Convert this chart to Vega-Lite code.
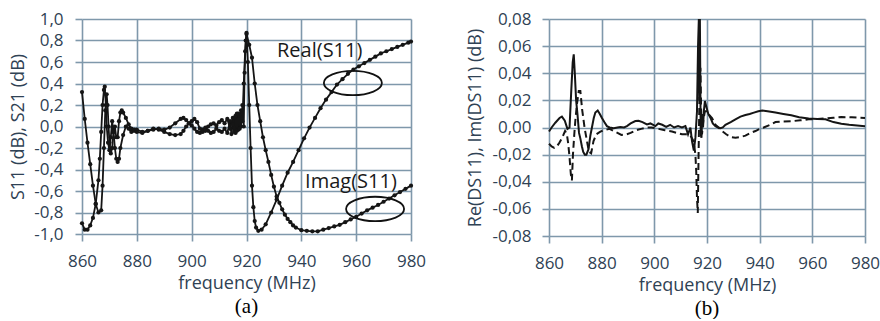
{
"$schema":"https://vega.github.io/schema/vega-lite/v6.json",
"background":"white",
"padding":{"left":9,"top":10,"right":0,"bottom":0},
"spacing":40,
"config":{
 "font":"Open Sans",
 "view":{"stroke":null},
 "axis":{"labelFont":"Open Sans","labelFontSize":17,"labelColor":"#2f4254","labelOverlap":false,"labelFlush":false,"titleFont":"Open Sans","titleFontSize":18,"titleFontWeight":"normal","titleColor":"#2f4254","gridColor":"#7f98ab","gridWidth":1.6,"gridOpacity":1,"tickColor":"#7f98ab","tickWidth":1.6,"tickSize":7,"domain":false},
 "title":{"font":"Liberation Serif","fontSize":21,"fontWeight":"normal","color":"#000000","orient":"bottom","anchor":"middle"}
},
"datasets":{
 "s11":[
{"f":860,"v":-0.9,"s":"Real"},{"f":861,"v":-0.96,"s":"Real"},{"f":862,"v":-0.96,"s":"Real"},{"f":863,"v":-0.92,"s":"Real"},{"f":864,"v":-0.85,"s":"Real"},{"f":865,"v":-0.72,"s":"Real"},{"f":866,"v":-0.5,"s":"Real"},{"f":866.5,"v":-0.3,"s":"Real"},{"f":867,"v":-0.05,"s":"Real"},{"f":867.5,"v":0.2,"s":"Real"},{"f":868,"v":0.34,"s":"Real"},{"f":868.3,"v":0.37,"s":"Real"},{"f":868.7,"v":0.2,"s":"Real"},{"f":869,"v":0.0,"s":"Real"},{"f":869.5,"v":-0.15,"s":"Real"},{"f":870,"v":-0.22,"s":"Real"},{"f":870.5,"v":-0.1,"s":"Real"},{"f":871,"v":0.05,"s":"Real"},{"f":871.5,"v":-0.05,"s":"Real"},{"f":872,"v":-0.2,"s":"Real"},{"f":872.5,"v":-0.3,"s":"Real"},{"f":873,"v":-0.33,"s":"Real"},{"f":873.5,"v":-0.3,"s":"Real"},{"f":874,"v":-0.2,"s":"Real"},{"f":875,"v":-0.08,"s":"Real"},{"f":876,"v":0.0,"s":"Real"},{"f":877,"v":-0.02,"s":"Real"},{"f":878,"v":-0.05,"s":"Real"},{"f":879,"v":-0.04,"s":"Real"},{"f":880,"v":-0.05,"s":"Real"},{"f":882,"v":-0.06,"s":"Real"},{"f":884,"v":-0.04,"s":"Real"},{"f":886,"v":-0.02,"s":"Real"},{"f":888,"v":-0.03,"s":"Real"},{"f":890,"v":-0.05,"s":"Real"},{"f":892,"v":-0.07,"s":"Real"},{"f":894,"v":-0.08,"s":"Real"},{"f":896,"v":-0.07,"s":"Real"},{"f":897,"v":-0.04,"s":"Real"},{"f":898,"v":0.0,"s":"Real"},{"f":899,"v":0.03,"s":"Real"},{"f":900,"v":0.01,"s":"Real"},{"f":901,"v":-0.02,"s":"Real"},{"f":902,"v":-0.05,"s":"Real"},{"f":903,"v":-0.06,"s":"Real"},{"f":904,"v":-0.03,"s":"Real"},{"f":905,"v":-0.01,"s":"Real"},{"f":906,"v":-0.04,"s":"Real"},{"f":907,"v":-0.06,"s":"Real"},{"f":908,"v":-0.05,"s":"Real"},{"f":909,"v":-0.02,"s":"Real"},{"f":910,"v":-0.04,"s":"Real"},{"f":911,"v":-0.05,"s":"Real"},{"f":912,"v":-0.02,"s":"Real"},{"f":913,"v":-0.06,"s":"Real"},{"f":914,"v":0.05,"s":"Real"},{"f":914.5,"v":-0.07,"s":"Real"},{"f":915,"v":0.02,"s":"Real"},{"f":915.5,"v":0.08,"s":"Real"},{"f":916,"v":-0.06,"s":"Real"},{"f":916.5,"v":0.12,"s":"Real"},{"f":917,"v":-0.03,"s":"Real"},{"f":917.5,"v":0.1,"s":"Real"},{"f":918,"v":0.0,"s":"Real"},{"f":918.5,"v":0.2,"s":"Real"},{"f":919,"v":0.0,"s":"Real"},{"f":919.3,"v":0.5,"s":"Real"},{"f":919.7,"v":0.8,"s":"Real"},{"f":920,"v":0.87,"s":"Real"},{"f":920.5,"v":0.6,"s":"Real"},{"f":921,"v":0.2,"s":"Real"},{"f":921.5,"v":-0.2,"s":"Real"},{"f":922,"v":-0.55,"s":"Real"},{"f":922.5,"v":-0.75,"s":"Real"},{"f":923,"v":-0.88,"s":"Real"},{"f":923.5,"v":-0.94,"s":"Real"},{"f":924.3,"v":-0.97,"s":"Real"},{"f":925.5,"v":-0.96,"s":"Real"},{"f":927,"v":-0.91,"s":"Real"},{"f":929,"v":-0.8,"s":"Real"},{"f":931,"v":-0.68,"s":"Real"},{"f":933,"v":-0.55,"s":"Real"},{"f":935,"v":-0.43,"s":"Real"},{"f":937,"v":-0.33,"s":"Real"},{"f":939,"v":-0.22,"s":"Real"},{"f":941,"v":-0.11,"s":"Real"},{"f":943,"v":-0.01,"s":"Real"},{"f":945,"v":0.08,"s":"Real"},{"f":947,"v":0.17,"s":"Real"},{"f":949,"v":0.25,"s":"Real"},{"f":951,"v":0.32,"s":"Real"},{"f":953,"v":0.39,"s":"Real"},{"f":955,"v":0.44,"s":"Real"},{"f":957,"v":0.49,"s":"Real"},{"f":959,"v":0.53,"s":"Real"},{"f":961,"v":0.56,"s":"Real"},{"f":963,"v":0.59,"s":"Real"},{"f":965,"v":0.62,"s":"Real"},{"f":967,"v":0.65,"s":"Real"},{"f":969,"v":0.68,"s":"Real"},{"f":971,"v":0.7,"s":"Real"},{"f":973,"v":0.72,"s":"Real"},{"f":975,"v":0.74,"s":"Real"},{"f":977,"v":0.76,"s":"Real"},{"f":979,"v":0.78,"s":"Real"},{"f":980,"v":0.79,"s":"Real"},
{"f":860,"v":0.32,"s":"Imag"},{"f":861,"v":0.07,"s":"Imag"},{"f":862,"v":-0.15,"s":"Imag"},{"f":863,"v":-0.35,"s":"Imag"},{"f":864,"v":-0.55,"s":"Imag"},{"f":865,"v":-0.72,"s":"Imag"},{"f":866,"v":-0.8,"s":"Imag"},{"f":867,"v":-0.78,"s":"Imag"},{"f":867.5,"v":-0.55,"s":"Imag"},{"f":868,"v":-0.2,"s":"Imag"},{"f":868.5,"v":0.15,"s":"Imag"},{"f":869,"v":0.3,"s":"Imag"},{"f":869.3,"v":0.2,"s":"Imag"},{"f":869.7,"v":0.0,"s":"Imag"},{"f":870,"v":-0.15,"s":"Imag"},{"f":870.5,"v":-0.25,"s":"Imag"},{"f":871,"v":-0.2,"s":"Imag"},{"f":871.5,"v":-0.05,"s":"Imag"},{"f":872,"v":0.0,"s":"Imag"},{"f":872.5,"v":-0.1,"s":"Imag"},{"f":873,"v":-0.1,"s":"Imag"},{"f":873.5,"v":0.05,"s":"Imag"},{"f":874,"v":0.13,"s":"Imag"},{"f":874.5,"v":0.15,"s":"Imag"},{"f":875,"v":0.13,"s":"Imag"},{"f":876,"v":0.08,"s":"Imag"},{"f":877,"v":0.02,"s":"Imag"},{"f":878,"v":-0.02,"s":"Imag"},{"f":879,"v":-0.03,"s":"Imag"},{"f":880,"v":-0.03,"s":"Imag"},{"f":882,"v":-0.05,"s":"Imag"},{"f":884,"v":-0.04,"s":"Imag"},{"f":886,"v":-0.03,"s":"Imag"},{"f":888,"v":-0.02,"s":"Imag"},{"f":890,"v":-0.03,"s":"Imag"},{"f":892,"v":-0.01,"s":"Imag"},{"f":894,"v":0.03,"s":"Imag"},{"f":896,"v":0.07,"s":"Imag"},{"f":897,"v":0.08,"s":"Imag"},{"f":898,"v":0.06,"s":"Imag"},{"f":899,"v":0.03,"s":"Imag"},{"f":900,"v":0.05,"s":"Imag"},{"f":901,"v":0.07,"s":"Imag"},{"f":902,"v":0.04,"s":"Imag"},{"f":903,"v":-0.02,"s":"Imag"},{"f":904,"v":-0.05,"s":"Imag"},{"f":905,"v":-0.04,"s":"Imag"},{"f":906,"v":0.0,"s":"Imag"},{"f":907,"v":0.02,"s":"Imag"},{"f":908,"v":0.03,"s":"Imag"},{"f":909,"v":0.01,"s":"Imag"},{"f":910,"v":0.04,"s":"Imag"},{"f":911,"v":0.06,"s":"Imag"},{"f":912,"v":0.03,"s":"Imag"},{"f":913,"v":0.07,"s":"Imag"},{"f":914,"v":-0.02,"s":"Imag"},{"f":915,"v":0.08,"s":"Imag"},{"f":915.5,"v":-0.05,"s":"Imag"},{"f":916,"v":0.1,"s":"Imag"},{"f":916.5,"v":-0.04,"s":"Imag"},{"f":917,"v":0.12,"s":"Imag"},{"f":917.5,"v":-0.02,"s":"Imag"},{"f":918,"v":0.15,"s":"Imag"},{"f":918.5,"v":0.05,"s":"Imag"},{"f":919,"v":0.4,"s":"Imag"},{"f":919.5,"v":0.7,"s":"Imag"},{"f":920,"v":0.86,"s":"Imag"},{"f":921,"v":0.76,"s":"Imag"},{"f":922,"v":0.64,"s":"Imag"},{"f":923,"v":0.4,"s":"Imag"},{"f":924,"v":0.2,"s":"Imag"},{"f":925,"v":0.05,"s":"Imag"},{"f":926,"v":-0.1,"s":"Imag"},{"f":927,"v":-0.22,"s":"Imag"},{"f":928,"v":-0.33,"s":"Imag"},{"f":929,"v":-0.45,"s":"Imag"},{"f":930,"v":-0.56,"s":"Imag"},{"f":931,"v":-0.65,"s":"Imag"},{"f":932,"v":-0.71,"s":"Imag"},{"f":933,"v":-0.77,"s":"Imag"},{"f":934,"v":-0.82,"s":"Imag"},{"f":935,"v":-0.86,"s":"Imag"},{"f":936,"v":-0.89,"s":"Imag"},{"f":937,"v":-0.92,"s":"Imag"},{"f":938,"v":-0.94,"s":"Imag"},{"f":940,"v":-0.965,"s":"Imag"},{"f":942,"v":-0.97,"s":"Imag"},{"f":944,"v":-0.975,"s":"Imag"},{"f":946,"v":-0.975,"s":"Imag"},{"f":948,"v":-0.96,"s":"Imag"},{"f":950,"v":-0.945,"s":"Imag"},{"f":952,"v":-0.93,"s":"Imag"},{"f":954,"v":-0.915,"s":"Imag"},{"f":956,"v":-0.89,"s":"Imag"},{"f":958,"v":-0.865,"s":"Imag"},{"f":960,"v":-0.84,"s":"Imag"},{"f":962,"v":-0.81,"s":"Imag"},{"f":964,"v":-0.78,"s":"Imag"},{"f":966,"v":-0.755,"s":"Imag"},{"f":968,"v":-0.73,"s":"Imag"},{"f":970,"v":-0.7,"s":"Imag"},{"f":972,"v":-0.67,"s":"Imag"},{"f":974,"v":-0.64,"s":"Imag"},{"f":976,"v":-0.61,"s":"Imag"},{"f":978,"v":-0.58,"s":"Imag"},{"f":980,"v":-0.55,"s":"Imag"}
 ],
 "notes":[{"f":946.7,"v":0.70,"label":"Real(S11)"},{"f":958.1,"v":-0.516,"label":"Imag(S11)"}],
 "rings":[{"f":958.8,"v":0.405},{"f":966.9,"v":-0.767}],
 "ds11":[
{"f":860,"v":-0.003,"s":"Re"},{"f":861,"v":0.0,"s":"Re"},{"f":862.4,"v":0.0035,"s":"Re"},{"f":864,"v":0.007,"s":"Re"},{"f":864.9,"v":0.008,"s":"Re"},{"f":866,"v":0.005,"s":"Re"},{"f":867,"v":-0.001,"s":"Re"},{"f":867.8,"v":0.0,"s":"Re"},{"f":868.4,"v":0.025,"s":"Re"},{"f":869,"v":0.048,"s":"Re"},{"f":869.4,"v":0.054,"s":"Re"},{"f":869.8,"v":0.04,"s":"Re"},{"f":870.3,"v":0.02,"s":"Re"},{"f":870.8,"v":0.01,"s":"Re"},{"f":871.4,"v":-0.004,"s":"Re"},{"f":871.9,"v":-0.008,"s":"Re"},{"f":872.5,"v":-0.014,"s":"Re"},{"f":873,"v":-0.018,"s":"Re"},{"f":873.6,"v":-0.02,"s":"Re"},{"f":874.2,"v":-0.02,"s":"Re"},{"f":875,"v":-0.016,"s":"Re"},{"f":875.7,"v":-0.006,"s":"Re"},{"f":876.3,"v":0.0,"s":"Re"},{"f":877,"v":0.007,"s":"Re"},{"f":877.6,"v":0.011,"s":"Re"},{"f":878.5,"v":0.0125,"s":"Re"},{"f":879.3,"v":0.01,"s":"Re"},{"f":880.1,"v":0.007,"s":"Re"},{"f":881,"v":0.004,"s":"Re"},{"f":882,"v":0.001,"s":"Re"},{"f":883,"v":0.0,"s":"Re"},{"f":884.6,"v":-0.0006,"s":"Re"},{"f":886,"v":0.0,"s":"Re"},{"f":887.1,"v":0.0004,"s":"Re"},{"f":888.5,"v":0.0,"s":"Re"},{"f":889.6,"v":0.001,"s":"Re"},{"f":891,"v":0.003,"s":"Re"},{"f":892.8,"v":0.0048,"s":"Re"},{"f":894,"v":0.005,"s":"Re"},{"f":895.5,"v":0.004,"s":"Re"},{"f":897.2,"v":0.0023,"s":"Re"},{"f":898.5,"v":0.003,"s":"Re"},{"f":900.4,"v":0.001,"s":"Re"},{"f":901.5,"v":0.003,"s":"Re"},{"f":903,"v":0.002,"s":"Re"},{"f":904.5,"v":0.0005,"s":"Re"},{"f":906,"v":0.002,"s":"Re"},{"f":907.5,"v":0.0,"s":"Re"},{"f":909,"v":0.001,"s":"Re"},{"f":910.5,"v":0.0,"s":"Re"},{"f":911.8,"v":0.001,"s":"Re"},{"f":912.8,"v":-0.005,"s":"Re"},{"f":913.7,"v":0.0,"s":"Re"},{"f":914.3,"v":-0.01,"s":"Re"},{"f":915,"v":-0.017,"s":"Re"},{"f":915.6,"v":-0.0075,"s":"Re"},{"f":916.2,"v":0.012,"s":"Re"},{"f":916.6,"v":0.06,"s":"Re"},{"f":916.9,"v":0.08,"s":"Re"},{"f":917.1,"v":0.02,"s":"Re"},{"f":917.3,"v":0.08,"s":"Re"},{"f":917.6,"v":-0.005,"s":"Re"},{"f":917.9,"v":-0.0075,"s":"Re"},{"f":918.2,"v":0.01,"s":"Re"},{"f":918.5,"v":0.0,"s":"Re"},{"f":918.8,"v":0.012,"s":"Re"},{"f":919.2,"v":0.0195,"s":"Re"},{"f":919.8,"v":0.015,"s":"Re"},{"f":920.5,"v":0.01,"s":"Re"},{"f":921.3,"v":0.0072,"s":"Re"},{"f":922.2,"v":0.003,"s":"Re"},{"f":923.2,"v":0.001,"s":"Re"},{"f":924.2,"v":0.0,"s":"Re"},{"f":925.1,"v":-0.0006,"s":"Re"},{"f":926,"v":0.0,"s":"Re"},{"f":927,"v":0.002,"s":"Re"},{"f":929,"v":0.004,"s":"Re"},{"f":930.8,"v":0.006,"s":"Re"},{"f":932.7,"v":0.008,"s":"Re"},{"f":934.6,"v":0.0092,"s":"Re"},{"f":936.2,"v":0.01,"s":"Re"},{"f":937.8,"v":0.011,"s":"Re"},{"f":939.5,"v":0.012,"s":"Re"},{"f":941,"v":0.0125,"s":"Re"},{"f":943,"v":0.012,"s":"Re"},{"f":946,"v":0.011,"s":"Re"},{"f":949,"v":0.01,"s":"Re"},{"f":952,"v":0.009,"s":"Re"},{"f":955,"v":0.0075,"s":"Re"},{"f":958.6,"v":0.0066,"s":"Re"},{"f":962,"v":0.0062,"s":"Re"},{"f":965,"v":0.006,"s":"Re"},{"f":968,"v":0.004,"s":"Re"},{"f":971,"v":0.0027,"s":"Re"},{"f":974,"v":0.002,"s":"Re"},{"f":977,"v":0.0015,"s":"Re"},{"f":980,"v":0.001,"s":"Re"},
{"f":860,"v":-0.012,"s":"Im"},{"f":861,"v":-0.014,"s":"Im"},{"f":862,"v":-0.015,"s":"Im"},{"f":863,"v":-0.014,"s":"Im"},{"f":864,"v":-0.011,"s":"Im"},{"f":865,"v":-0.0075,"s":"Im"},{"f":866.1,"v":-0.0026,"s":"Im"},{"f":866.8,"v":-0.005,"s":"Im"},{"f":867.3,"v":-0.012,"s":"Im"},{"f":867.8,"v":-0.022,"s":"Im"},{"f":868.3,"v":-0.0345,"s":"Im"},{"f":868.7,"v":-0.039,"s":"Im"},{"f":869.1,"v":-0.02,"s":"Im"},{"f":869.6,"v":-0.005,"s":"Im"},{"f":870,"v":0.005,"s":"Im"},{"f":870.6,"v":0.017,"s":"Im"},{"f":871.3,"v":0.027,"s":"Im"},{"f":871.9,"v":0.027,"s":"Im"},{"f":872.6,"v":0.013,"s":"Im"},{"f":873.5,"v":0.0,"s":"Im"},{"f":874.4,"v":-0.01,"s":"Im"},{"f":875.2,"v":-0.018,"s":"Im"},{"f":876,"v":-0.019,"s":"Im"},{"f":876.9,"v":-0.01,"s":"Im"},{"f":878,"v":-0.005,"s":"Im"},{"f":879.5,"v":-0.003,"s":"Im"},{"f":881,"v":-0.002,"s":"Im"},{"f":883,"v":-0.001,"s":"Im"},{"f":885,"v":-0.003,"s":"Im"},{"f":887.5,"v":-0.0055,"s":"Im"},{"f":889.5,"v":-0.005,"s":"Im"},{"f":891,"v":-0.004,"s":"Im"},{"f":893,"v":-0.002,"s":"Im"},{"f":895,"v":-0.001,"s":"Im"},{"f":897,"v":0.0,"s":"Im"},{"f":899,"v":0.0,"s":"Im"},{"f":901.6,"v":-0.001,"s":"Im"},{"f":904,"v":-0.002,"s":"Im"},{"f":906.7,"v":-0.003,"s":"Im"},{"f":908.5,"v":-0.004,"s":"Im"},{"f":910.5,"v":-0.005,"s":"Im"},{"f":912,"v":-0.005,"s":"Im"},{"f":913.7,"v":-0.006,"s":"Im"},{"f":914.9,"v":-0.01,"s":"Im"},{"f":915.6,"v":-0.02,"s":"Im"},{"f":915.9,"v":-0.032,"s":"Im"},{"f":916.2,"v":-0.052,"s":"Im"},{"f":916.5,"v":-0.063,"s":"Im"},{"f":916.8,"v":-0.02,"s":"Im"},{"f":917.2,"v":0.03,"s":"Im"},{"f":917.5,"v":0.044,"s":"Im"},{"f":917.8,"v":0.01,"s":"Im"},{"f":918.1,"v":-0.005,"s":"Im"},{"f":918.6,"v":0.005,"s":"Im"},{"f":919.2,"v":0.012,"s":"Im"},{"f":920,"v":0.012,"s":"Im"},{"f":921,"v":0.009,"s":"Im"},{"f":921.9,"v":0.007,"s":"Im"},{"f":923.2,"v":0.002,"s":"Im"},{"f":924.4,"v":0.0,"s":"Im"},{"f":925.7,"v":-0.0026,"s":"Im"},{"f":927.3,"v":-0.005,"s":"Im"},{"f":929,"v":-0.007,"s":"Im"},{"f":930.8,"v":-0.0075,"s":"Im"},{"f":932.7,"v":-0.007,"s":"Im"},{"f":934.6,"v":-0.006,"s":"Im"},{"f":936.5,"v":-0.004,"s":"Im"},{"f":938.4,"v":-0.0026,"s":"Im"},{"f":940,"v":-0.001,"s":"Im"},{"f":941.5,"v":0.0,"s":"Im"},{"f":944,"v":0.002,"s":"Im"},{"f":946,"v":0.004,"s":"Im"},{"f":949,"v":0.0045,"s":"Im"},{"f":952.3,"v":0.0047,"s":"Im"},{"f":955.5,"v":0.0053,"s":"Im"},{"f":958.6,"v":0.006,"s":"Im"},{"f":962,"v":0.0063,"s":"Im"},{"f":965,"v":0.0067,"s":"Im"},{"f":968,"v":0.0072,"s":"Im"},{"f":971,"v":0.0077,"s":"Im"},{"f":975,"v":0.0075,"s":"Im"},{"f":980,"v":0.007,"s":"Im"}
 ]
},
"hconcat":[
 {
  "width":329,"height":215,
  "title":{"text":"(a)","offset":4},
  "encoding":{
   "x":{"field":"f","type":"quantitative","scale":{"domain":[860,980],"nice":false,"zero":false},
    "axis":{"values":[860,880,900,920,940,960,980],"title":"frequency (MHz)","labelPadding":12,"titlePadding":5,"labelFlush":false,"labelOverlap":false}},
   "y":{"field":"v","type":"quantitative","scale":{"domain":[-1,1],"nice":false},
    "axis":{"values":[-1,-0.8,-0.6,-0.4,-0.2,0,0.2,0.4,0.6,0.8,1],"title":"S11 (dB), S21 (dB)","labelPadding":12,"titlePadding":6,"labelOverlap":false,"labelFlush":false,
     "labelExpr":"replace(replace(format(datum.value,'.1f'),'.',','),'\u2212','-')"}}
  },
  "layer":[
   {
    "data":{"name":"s11"},
    "mark":{"type":"line","color":"#151515","strokeWidth":1.8,"point":{"filled":true,"size":18,"color":"#151515","opacity":1}},
    "encoding":{"detail":{"field":"s"}}
   },
   {
    "data":{"name":"rings"},
    "mark":{"type":"point","shape":"M -1 0 A 1 0.42 0 1 1 1 0 A 1 0.42 0 1 1 -1 0 Z","filled":false,"size":3364,"color":"#111111","strokeWidth":1.8,"opacity":1}
   },
   {
    "data":{"name":"notes"},
    "mark":{"type":"text","font":"Open Sans","fontSize":20,"color":"#1a1a1a"},
    "encoding":{"text":{"field":"label"}}
   }
  ]
 },
 {
  "width":316,"height":217,
  "title":{"text":"(b)","offset":4},
  "data":{"name":"ds11"},
  "encoding":{
   "x":{"field":"f","type":"quantitative","scale":{"domain":[860,980],"nice":false,"zero":false},
    "axis":{"values":[860,880,900,920,940,960,980],"title":"frequency (MHz)","labelPadding":12,"titlePadding":5,"labelFlush":false,"labelOverlap":false}},
   "y":{"field":"v","type":"quantitative","scale":{"domain":[-0.08,0.08],"nice":false},
    "axis":{"values":[-0.08,-0.06,-0.04,-0.02,0,0.02,0.04,0.06,0.08],"title":"Re(DS11), Im(DS11) (dB)","labelPadding":11,"titlePadding":7,"labelOverlap":false,"labelFlush":false,
     "labelExpr":"replace(replace(format(datum.value,'.2f'),'.',','),'\u2212','-')"}}
  },
  "layer":[
   {"transform":[{"filter":"datum.s == 'Im'"}],"mark":{"type":"line","color":"#151515","strokeWidth":2,"strokeDash":[7,4]}},
   {"transform":[{"filter":"datum.s == 'Re'"}],"mark":{"type":"line","color":"#151515","strokeWidth":2}}
  ]
 }
]
}
